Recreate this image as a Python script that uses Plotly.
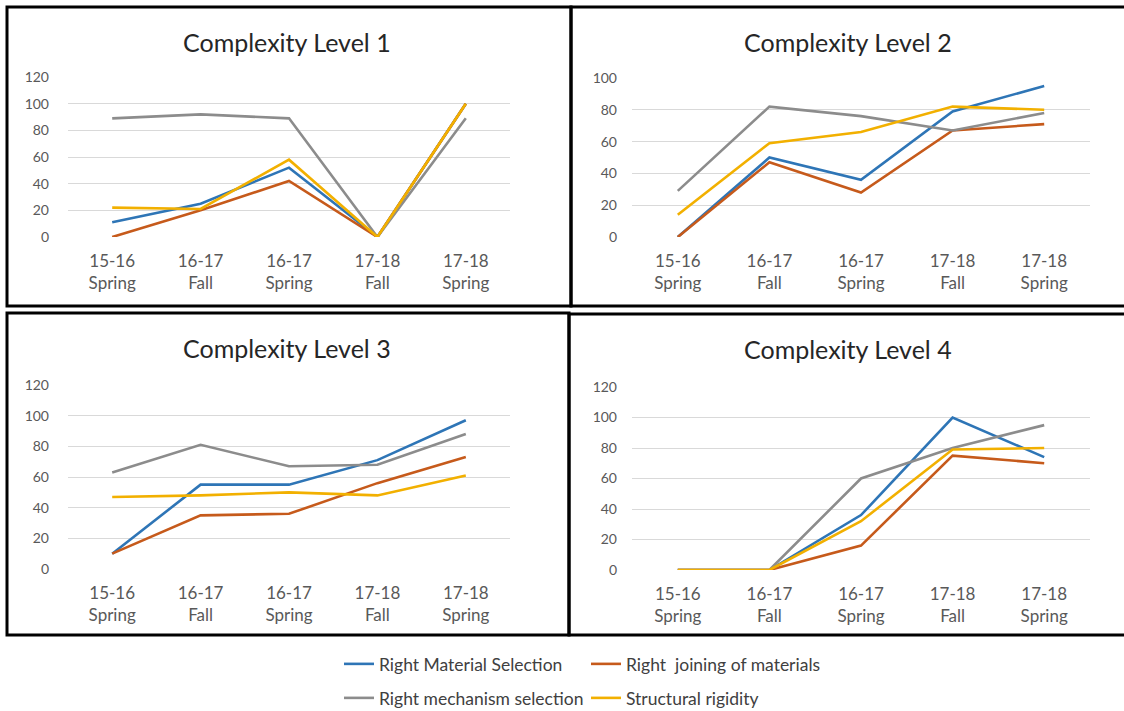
import plotly.graph_objects as go

W, H = 1124, 711

categories = ["15-16<br>Spring", "16-17<br>Fall", "16-17<br>Spring", "17-18<br>Fall", "17-18<br>Spring"]
series_names = ["Right Material Selection", "Right\u00a0 joining of materials",
                "Right mechanism selection", "Structural rigidity"]
colors = ["#2E75B6", "#C65A1B", "#8C8C8C", "#F2B000"]

# Complexity Level 1
lvl1_material = [11, 25, 52, 0, 100]
lvl1_joining = [0, 20, 42, 0, 100]
lvl1_mechanism = [89, 92, 89, 0, 89]
lvl1_rigidity = [22, 21, 58, 0, 100]
# Complexity Level 2
lvl2_material = [0, 50, 36, 79, 95]
lvl2_joining = [0, 47, 28, 67, 71]
lvl2_mechanism = [29, 82, 76, 67, 78]
lvl2_rigidity = [14, 59, 66, 82, 80]
# Complexity Level 3
lvl3_material = [10, 55, 55, 71, 97]
lvl3_joining = [10, 35, 36, 56, 73]
lvl3_mechanism = [63, 81, 67, 68, 88]
lvl3_rigidity = [47, 48, 50, 48, 61]
# Complexity Level 4
lvl4_material = [0, 0, 36, 100, 74]
lvl4_joining = [0, 0, 16, 75, 70]
lvl4_mechanism = [0, 0, 60, 80, 95]
lvl4_rigidity = [0, 0, 32, 79, 80]

titles = ["Complexity Level 1", "Complexity Level 2", "Complexity Level 3", "Complexity Level 4"]
y_max = [120, 100, 120, 120]

panels = [
    [lvl1_material, lvl1_joining, lvl1_mechanism, lvl1_rigidity],
    [lvl2_material, lvl2_joining, lvl2_mechanism, lvl2_rigidity],
    [lvl3_material, lvl3_joining, lvl3_mechanism, lvl3_rigidity],
    [lvl4_material, lvl4_joining, lvl4_mechanism, lvl4_rigidity],
]

def px_x(v):
    return v / W

def px_y(v):
    return 1 - v / H

# plot-area pixel boxes: (left, right, top, bottom)
boxes = [(68, 510, 77, 237), (632, 1090, 78, 237), (68, 510, 385, 569), (632, 1090, 387, 570)]
ystandoff = [18, 14, 18, 14]
# panel frames (left, right, top, bottom)
frames = [(7, 571, 7, 306), (571, 1127, 7, 306), (7, 569, 313, 635), (569, 1127, 314, 635)]
title_pos = [(287, 42), (848, 42), (287, 348), (848, 349)]

fig = go.Figure()
font_family = "Lato, 'Liberation Sans', sans-serif"

for p, data in enumerate(panels):
    ax = "" if p == 0 else str(p + 1)
    for s, vals in enumerate(data):
        fig.add_trace(go.Scatter(
            x=categories, y=vals, mode="lines",
            name=series_names[s],
            line=dict(color=colors[s], width=2.6),
            xaxis="x" + ax, yaxis="y" + ax,
            showlegend=(p == 0),
            legend="legend" if s < 2 else "legend2",
        ))
    l, r, t, b = boxes[p]
    fig.layout["xaxis" + ax] = dict(
        domain=[px_x(l), px_x(r)], anchor="y" + ax,
        type="category", categoryorder="array", categoryarray=categories,
        range=[-0.5, 4.5], showgrid=False, zeroline=False, showline=False,
        ticks="", ticklabelstandoff=12, automargin=False,
        tickfont=dict(size=17, color="#595959", family=font_family),
        fixedrange=True,
    )
    fig.layout["yaxis" + ax] = dict(
        domain=[px_y(b), px_y(t)], anchor="x" + ax,
        range=[0, y_max[p]], dtick=20, showgrid=True, gridcolor="#D9D9D9", gridwidth=1.3,
        zeroline=False, showline=False, ticks="", automargin=False,
        ticklabelstandoff=ystandoff[p],
        tickfont=dict(size=14, color="#595959", family=font_family),
        fixedrange=True,
    )

shapes = []
for (l, r, t, b) in frames:
    shapes.append(dict(type="rect", xref="paper", yref="paper",
                       x0=px_x(l), x1=px_x(r), y0=px_y(b), y1=px_y(t),
                       line=dict(color="black", width=3), fillcolor="rgba(0,0,0,0)",
                       layer="above"))

annotations = []
for i, (cx, cy) in enumerate(title_pos):
    annotations.append(dict(text=titles[i], x=px_x(cx), y=px_y(cy), xref="paper", yref="paper",
                            xanchor="center", yanchor="middle", showarrow=False,
                            font=dict(size=25, color="#262626", family=font_family)))

legend_common = dict(orientation="h", xanchor="left", yanchor="middle",
                     font=dict(size=17.5, color="#404040", family=font_family),
                     entrywidth=202, entrywidthmode="pixels", bgcolor="rgba(0,0,0,0)",
                     itemwidth=30)

fig.update_layout(
    width=W, height=H,
    margin=dict(l=0, r=0, t=0, b=0, pad=0, autoexpand=False),
    paper_bgcolor="white", plot_bgcolor="white",
    shapes=shapes, annotations=annotations,
    legend=dict(x=px_x(339), y=px_y(664), **legend_common),
    legend2=dict(x=px_x(339), y=px_y(698), **legend_common),
    font=dict(family=font_family),
)

fig.write_html("out.html",
               config={"displayModeBar": False},
               post_script="document.body.style.margin='0px';document.body.style.overflow='hidden';")
